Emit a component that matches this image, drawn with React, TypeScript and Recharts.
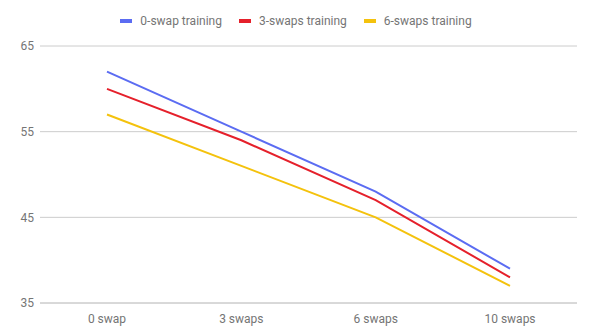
import React from "react";
import { LineChart, Line, XAxis, YAxis, CartesianGrid, Legend } from "recharts";

const categories = ["0 swap", "3 swaps", "6 swaps", "10 swaps"];
const swap0 = [62, 55, 48, 39];
const swap3 = [60, 54, 47, 38];
const swap6 = [57, 51, 45, 37];
const yTicks = [35, 45, 55, 65];

const seriesInfo = [
  { key: "s0", name: "0-swap training", color: "#5b6cf2" },
  { key: "s3", name: "3-swaps training", color: "#e5202b" },
  { key: "s6", name: "6-swaps training", color: "#f4c20d" },
];

const data = categories.map((c, i) => ({ name: c, s0: swap0[i], s3: swap3[i], s6: swap6[i] }));

const LegendContent = () => (
  <div style={{ display: "flex", justifyContent: "center", fontFamily: "Roboto", fontSize: 12, color: "#757575", height: 14 }}>
    {seriesInfo.map((s, i) => (
      <div key={s.key} style={{ display: "flex", alignItems: "center", marginRight: i < 2 ? 17 : 0 }}>
        <div style={{ width: 12, height: 4, background: s.color, marginRight: 8 }} />
        <span>{s.name}</span>
      </div>
    ))}
  </div>
);

export default function App() {
  return (
    <div style={{ position: "absolute", left: 0, top: 0, width: 592, height: 329, background: "#fff" }}>
      <LineChart width={592} height={329} data={data} margin={{ top: 32, right: 15, bottom: 2, left: 0 }}>
        <CartesianGrid vertical={false} stroke="#cccccc" />
        <XAxis
          dataKey="name"
          padding={{ left: 67, right: 67 }}
          axisLine={{ stroke: "#cccccc" }}
          tickLine={false}
          tick={{ fill: "#757575", fontSize: 12, fontFamily: "Roboto" }}
          tickMargin={5}
          height={24}
        />
        <YAxis
          domain={[35, 65]}
          ticks={yTicks}
          axisLine={false}
          tickLine={false}
          tickSize={0}
          width={40}
          tick={{ fill: "#757575", fontSize: 12, fontFamily: "Roboto" }}
          tickMargin={6}
        />
        <Legend verticalAlign="top" content={<LegendContent />} wrapperStyle={{ top: 14, left: 0, width: 592 }} />
        {seriesInfo.map((s) => (
          <Line
            key={s.key}
            dataKey={s.key}
            name={s.name}
            stroke={s.color}
            strokeWidth={2}
            dot={false}
            activeDot={false}
            isAnimationActive={false}
          />
        ))}
      </LineChart>
    </div>
  );
}
